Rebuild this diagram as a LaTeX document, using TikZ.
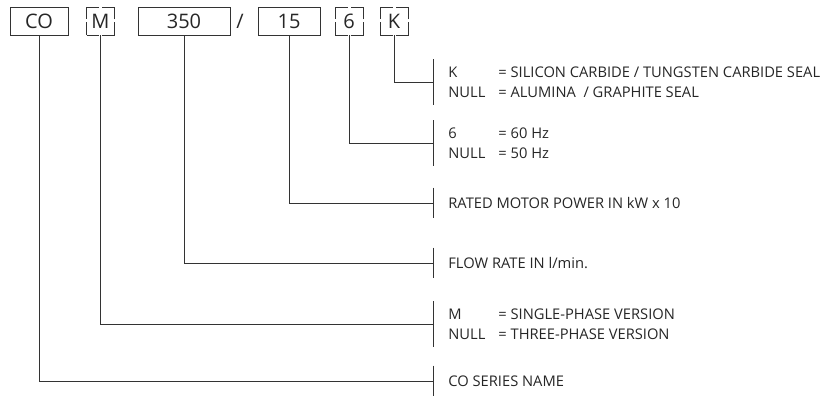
\documentclass[tikz,border=0pt]{standalone}
\usepackage{fontspec}
\setmainfont{Open Sans}
\begin{document}
\begin{tikzpicture}[x=1pt, y=-1pt, line width=0.8pt, draw=black!80, text=black!85,
  every node/.style={font=\fontsize{14.7}{20}\selectfont},
  box/.style={draw, inner sep=0pt, minimum height=28pt, font=\fontsize{20}{24}\selectfont},
  gbox/.style={box, minimum width=28pt, dash pattern=on 25pt off 3pt, dash phase=12.5pt},
  lab/.style={anchor=west, align=left, inner sep=0pt, minimum height=30pt},
  lab2/.style={lab, minimum height=45pt}]
  \useasboundingbox (0,0) rectangle (826,396);
  % code boxes
  \node[box, minimum width=58pt] (co) at (39,21) {CO};
  \node[gbox] (m) at (100.5,21) {M};
  \node[box, minimum width=92pt] (flow) at (184,21) {350};
  \node[font=\fontsize{20}{24}\selectfont] (slash) at (240,21) {/};
  \node[box, minimum width=62pt] (pow) at (289,21) {15};
  \node[gbox] (hz) at (349,21) {6};
  \node[gbox] (k) at (394,21) {K};
  % legend
  \node[lab2] (lk) at (448,82) {\makebox[50pt][l]{K}= SILICON CARBIDE / TUNGSTEN CARBIDE SEAL\\
    \makebox[50pt][l]{NULL}= ALUMINA \ / GRAPHITE SEAL};
  \node[lab2] (lhz) at (448,143) {\makebox[50pt][l]{6}= 60 Hz\\ \makebox[50pt][l]{NULL}= 50 Hz};
  \node[lab] (lpow) at (448,203) {RATED MOTOR POWER IN kW x 10};
  \node[lab] (lflow) at (448,263) {FLOW RATE IN l/min.};
  \node[lab2] (lm) at (448,324) {\makebox[50pt][l]{M}= SINGLE-PHASE VERSION\\
    \makebox[50pt][l]{NULL}= THREE-PHASE VERSION};
  \node[lab] (lco) at (448,381) {CO SERIES NAME};
  % brackets and leaders
  \foreach \b/\l in {k/lk, hz/lhz, pow/lpow, flow/lflow, m/lm, co/lco} {
    \draw ([xshift=-15pt]\l.north west) -- ([xshift=-15pt]\l.south west);
    \draw (\b.south) |- ([xshift=-15pt]\l.west);
  }
\end{tikzpicture}
\end{document}
